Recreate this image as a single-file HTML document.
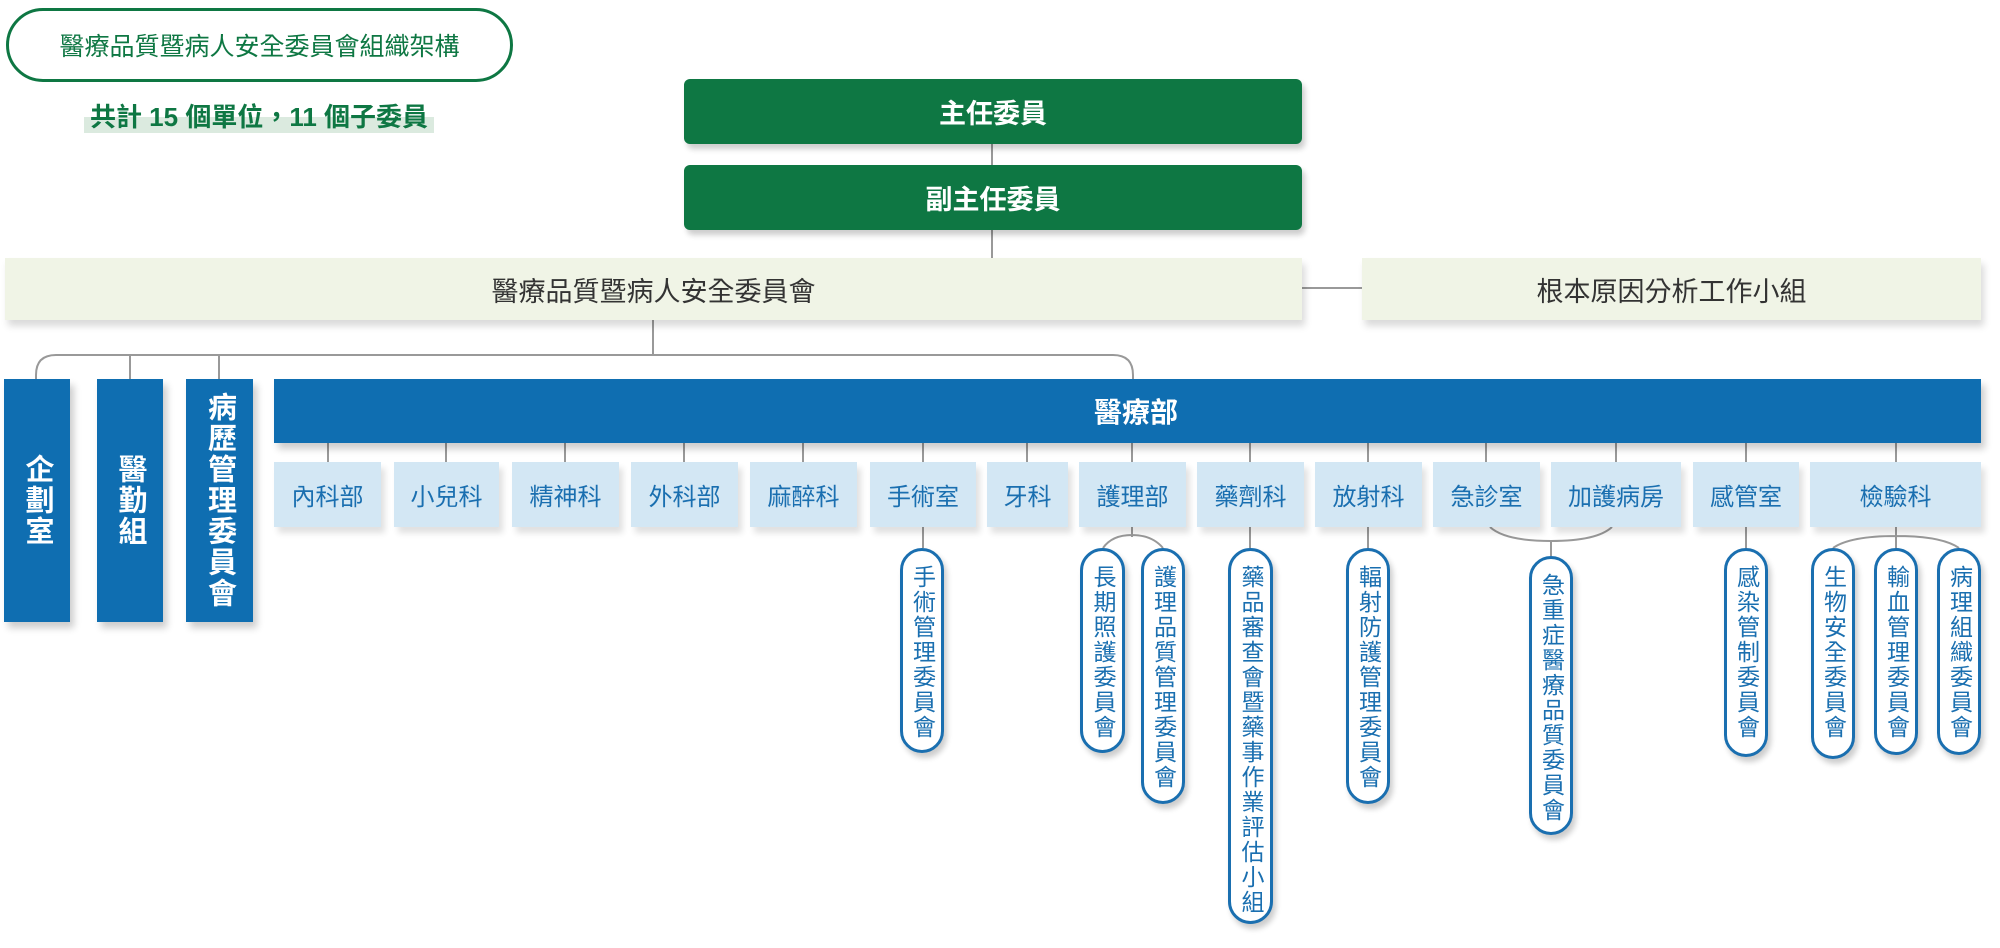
<!DOCTYPE html>
<html><head><meta charset="utf-8"><style>
body{margin:0;width:2000px;height:948px;background:#fff;position:relative;overflow:hidden;font-family:"Liberation Sans","Noto Sans CJK TC",sans-serif}
.a{position:absolute;box-sizing:border-box;display:flex;align-items:center;justify-content:center}
.g{background:#0e7743;color:#fff;font-weight:bold;font-size:27px;border-radius:6px;box-shadow:3px 5px 6px rgba(0,0,0,.2)}
.l{background:#f0f4e6;color:#333;font-size:27px;box-shadow:3px 6px 7px rgba(0,0,0,.15)}
.b{background:#0f6eb1;color:#fff;font-weight:bold;box-shadow:4px 6px 7px rgba(0,0,0,.2)}
.v{writing-mode:vertical-rl;text-orientation:upright;font-size:29px;letter-spacing:2px}
.d{background:#d3e7f4;color:#1a6fb0;font-size:24px;box-shadow:4px 6px 6px rgba(0,0,0,.12);top:462px;height:65px}
.p{background:#fff;border:3px solid #1a6fb0;border-radius:24px;color:#1a6fb0;font-size:23px;flex-direction:column;justify-content:flex-start;align-items:center;padding-top:14px;box-shadow:3px 5px 6px rgba(0,0,0,.2)}
.p span{writing-mode:vertical-rl;text-orientation:upright;letter-spacing:2px;line-height:1}
</style></head><body>
<svg width="2000" height="948" style="position:absolute;left:0;top:0" fill="none" stroke="#999" stroke-width="2">
<path d="M992 144V258M1302 288H1362M653 320V355M36 379V375Q36 355 56 355H1113Q1133 355 1133 375V379M130 355V379M219 355V379"/>
<path d="M328 443V462M446 443V462M565 443V462M684 443V462M803 443V462M923 443V462M1027 443V462M1132 443V462M1250 443V462M1368 443V462M1486 443V462M1616 443V462M1746 443V462M1896 443V462"/>
<path d="M923 527V548M1132 527V537M1103 548Q1112 535 1132 535Q1152 535 1163 548M1250 527V548M1368 527V548M1746 527V548M1896 527V548M1833 548Q1850 536 1896 536Q1942 536 1959 548M1490 527Q1505 541 1551 541Q1597 541 1612 527M1551 541V556"/>
</svg>
<div class="a" style="left:6px;top:8px;width:507px;height:74px;border:3px solid #0e7743;border-radius:37px;color:#0e7743;font-size:25px">醫療品質暨病人安全委員會組織架構</div>
<div class="a" style="left:84px;top:97px;width:350px;height:36px;color:#0e7743;font-size:26px;font-weight:bold;white-space:nowrap;background:linear-gradient(transparent 55%,#dbeadf 55%)">共計 15 個單位，11 個子委員</div>
<div class="a g" style="left:684px;top:79px;width:618px;height:65px">主任委員</div>
<div class="a g" style="left:684px;top:165px;width:618px;height:65px">副主任委員</div>
<div class="a l" style="left:5px;top:258px;width:1297px;height:62px">醫療品質暨病人安全委員會</div>
<div class="a l" style="left:1362px;top:258px;width:619px;height:62px">根本原因分析工作小組</div>
<div class="a b v" style="left:4px;top:379px;width:66px;height:243px">企劃室</div>
<div class="a b v" style="left:97px;top:379px;width:66px;height:243px">醫勤組</div>
<div class="a b v" style="left:186px;top:379px;width:67px;height:243px">病歷管理委員會</div>
<div class="a b" style="left:274px;top:379px;width:1707px;height:64px;font-size:28px"><span style="position:absolute;left:820px">醫療部</span></div>
<div class="a d" style="left:274px;width:107px">內科部</div>
<div class="a d" style="left:394px;width:105px">小兒科</div>
<div class="a d" style="left:512px;width:107px">精神科</div>
<div class="a d" style="left:631px;width:107px">外科部</div>
<div class="a d" style="left:750px;width:107px">麻醉科</div>
<div class="a d" style="left:870px;width:106px">手術室</div>
<div class="a d" style="left:987px;width:81px">牙科</div>
<div class="a d" style="left:1079px;width:107px">護理部</div>
<div class="a d" style="left:1197px;width:107px">藥劑科</div>
<div class="a d" style="left:1315px;width:107px">放射科</div>
<div class="a d" style="left:1433px;width:107px">急診室</div>
<div class="a d" style="left:1551px;width:130px">加護病房</div>
<div class="a d" style="left:1693px;width:106px">感管室</div>
<div class="a d" style="left:1810px;width:171px">檢驗科</div>
<div class="a p" style="left:900px;top:548px;width:44px;height:205px"><span>手術管理委員會</span></div>
<div class="a p" style="left:1080px;top:548px;width:45px;height:205px"><span>長期照護委員會</span></div>
<div class="a p" style="left:1141px;top:548px;width:44px;height:256px"><span>護理品質管理委員會</span></div>
<div class="a p" style="left:1228px;top:548px;width:45px;height:376px"><span>藥品審查會暨藥事作業評估小組</span></div>
<div class="a p" style="left:1346px;top:548px;width:44px;height:256px"><span>輻射防護管理委員會</span></div>
<div class="a p" style="left:1529px;top:556px;width:44px;height:279px"><span>急重症醫療品質委員會</span></div>
<div class="a p" style="left:1724px;top:548px;width:44px;height:209px"><span>感染管制委員會</span></div>
<div class="a p" style="left:1811px;top:548px;width:44px;height:211px"><span>生物安全委員會</span></div>
<div class="a p" style="left:1874px;top:548px;width:44px;height:207px"><span>輸血管理委員會</span></div>
<div class="a p" style="left:1937px;top:548px;width:44px;height:207px"><span>病理組織委員會</span></div>
</body></html>
